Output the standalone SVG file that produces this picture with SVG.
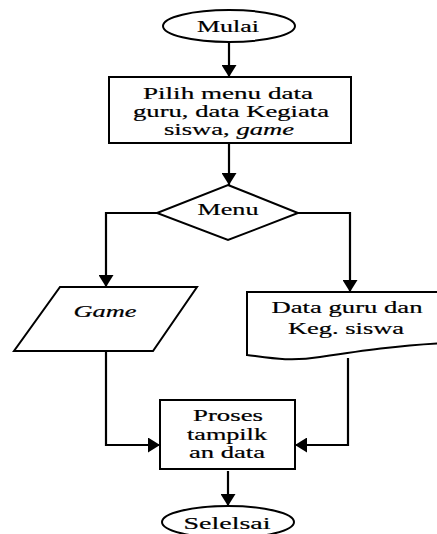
<svg xmlns="http://www.w3.org/2000/svg" width="437" height="534" viewBox="0 0 437 534">
<style>
.s{fill:#fff;stroke:#000;stroke-width:2}
.c{fill:none;stroke:#000;stroke-width:2.2}
text{font-family:"Liberation Serif","Times New Roman",serif;font-size:17px;fill:#000;text-anchor:middle;stroke:#000;stroke-width:0.2}
.i{font-style:italic}
</style>
<defs>
<marker id="a" viewBox="0 0 12 15" refX="12" refY="7.5" markerWidth="12" markerHeight="15" markerUnits="userSpaceOnUse" orient="auto">
<path d="M0,0 L12,7.5 L0,15 Z" fill="#000"/>
</marker>
</defs>
<g id="connectors">
<path class="c" d="M229,42 V77" marker-end="url(#a)"/>
<path class="c" d="M229,143 V185" marker-end="url(#a)"/>
<path class="c" d="M157,213 H106 V287" marker-end="url(#a)"/>
<path class="c" d="M298,213 H350 V292" marker-end="url(#a)"/>
<path class="c" d="M106,351 V445 H160" marker-end="url(#a)"/>
<path class="c" d="M348,358 V445 H295" marker-end="url(#a)"/>
<path class="c" d="M228,471 V506" marker-end="url(#a)"/>
</g>
<g id="mulai">
<ellipse class="s" cx="229" cy="26" rx="66" ry="16"/>
<text x="228" y="32" textLength="62" lengthAdjust="spacingAndGlyphs">Mulai</text>
</g>
<g id="pilih">
<rect class="s" x="109" y="77" width="242" height="66"/>
<text x="228" y="99" textLength="170" lengthAdjust="spacingAndGlyphs">Pilih menu data</text>
<text x="231" y="117" textLength="196" lengthAdjust="spacingAndGlyphs">guru, data Kegiata</text>
<text x="229" y="135" textLength="130" lengthAdjust="spacingAndGlyphs">siswa, <tspan class="i">game</tspan></text>
</g>
<g id="menu">
<path class="s" d="M228,185 L298,213 L228,240 L157,213 Z"/>
<text x="228" y="215" textLength="61" lengthAdjust="spacingAndGlyphs">Menu</text>
</g>
<g id="game">
<path class="s" d="M60,287 L197,287 L153,351 L14,351 Z"/>
<text class="i" x="105" y="317" textLength="63" lengthAdjust="spacingAndGlyphs">Game</text>
</g>
<g id="data">
<path class="s" d="M247,292 H445 V343 C400,345 360,351 320,357 C290,362 270,358 247,355 Z"/>
<text x="347" y="313" textLength="151" lengthAdjust="spacingAndGlyphs">Data guru dan</text>
<text x="346" y="334" textLength="116" lengthAdjust="spacingAndGlyphs">Keg. siswa</text>
</g>
<g id="proses">
<rect class="s" x="160" y="400" width="135" height="69"/>
<text x="228" y="421" textLength="70" lengthAdjust="spacingAndGlyphs">Proses</text>
<text x="227" y="440" textLength="80" lengthAdjust="spacingAndGlyphs">tampilk</text>
<text x="227" y="458" textLength="76" lengthAdjust="spacingAndGlyphs">an data</text>
</g>
<g id="selesai">
<ellipse class="s" cx="228" cy="522" rx="66" ry="16"/>
<text x="227" y="529" textLength="87" lengthAdjust="spacingAndGlyphs">Selelsai</text>
</g>
</svg>
